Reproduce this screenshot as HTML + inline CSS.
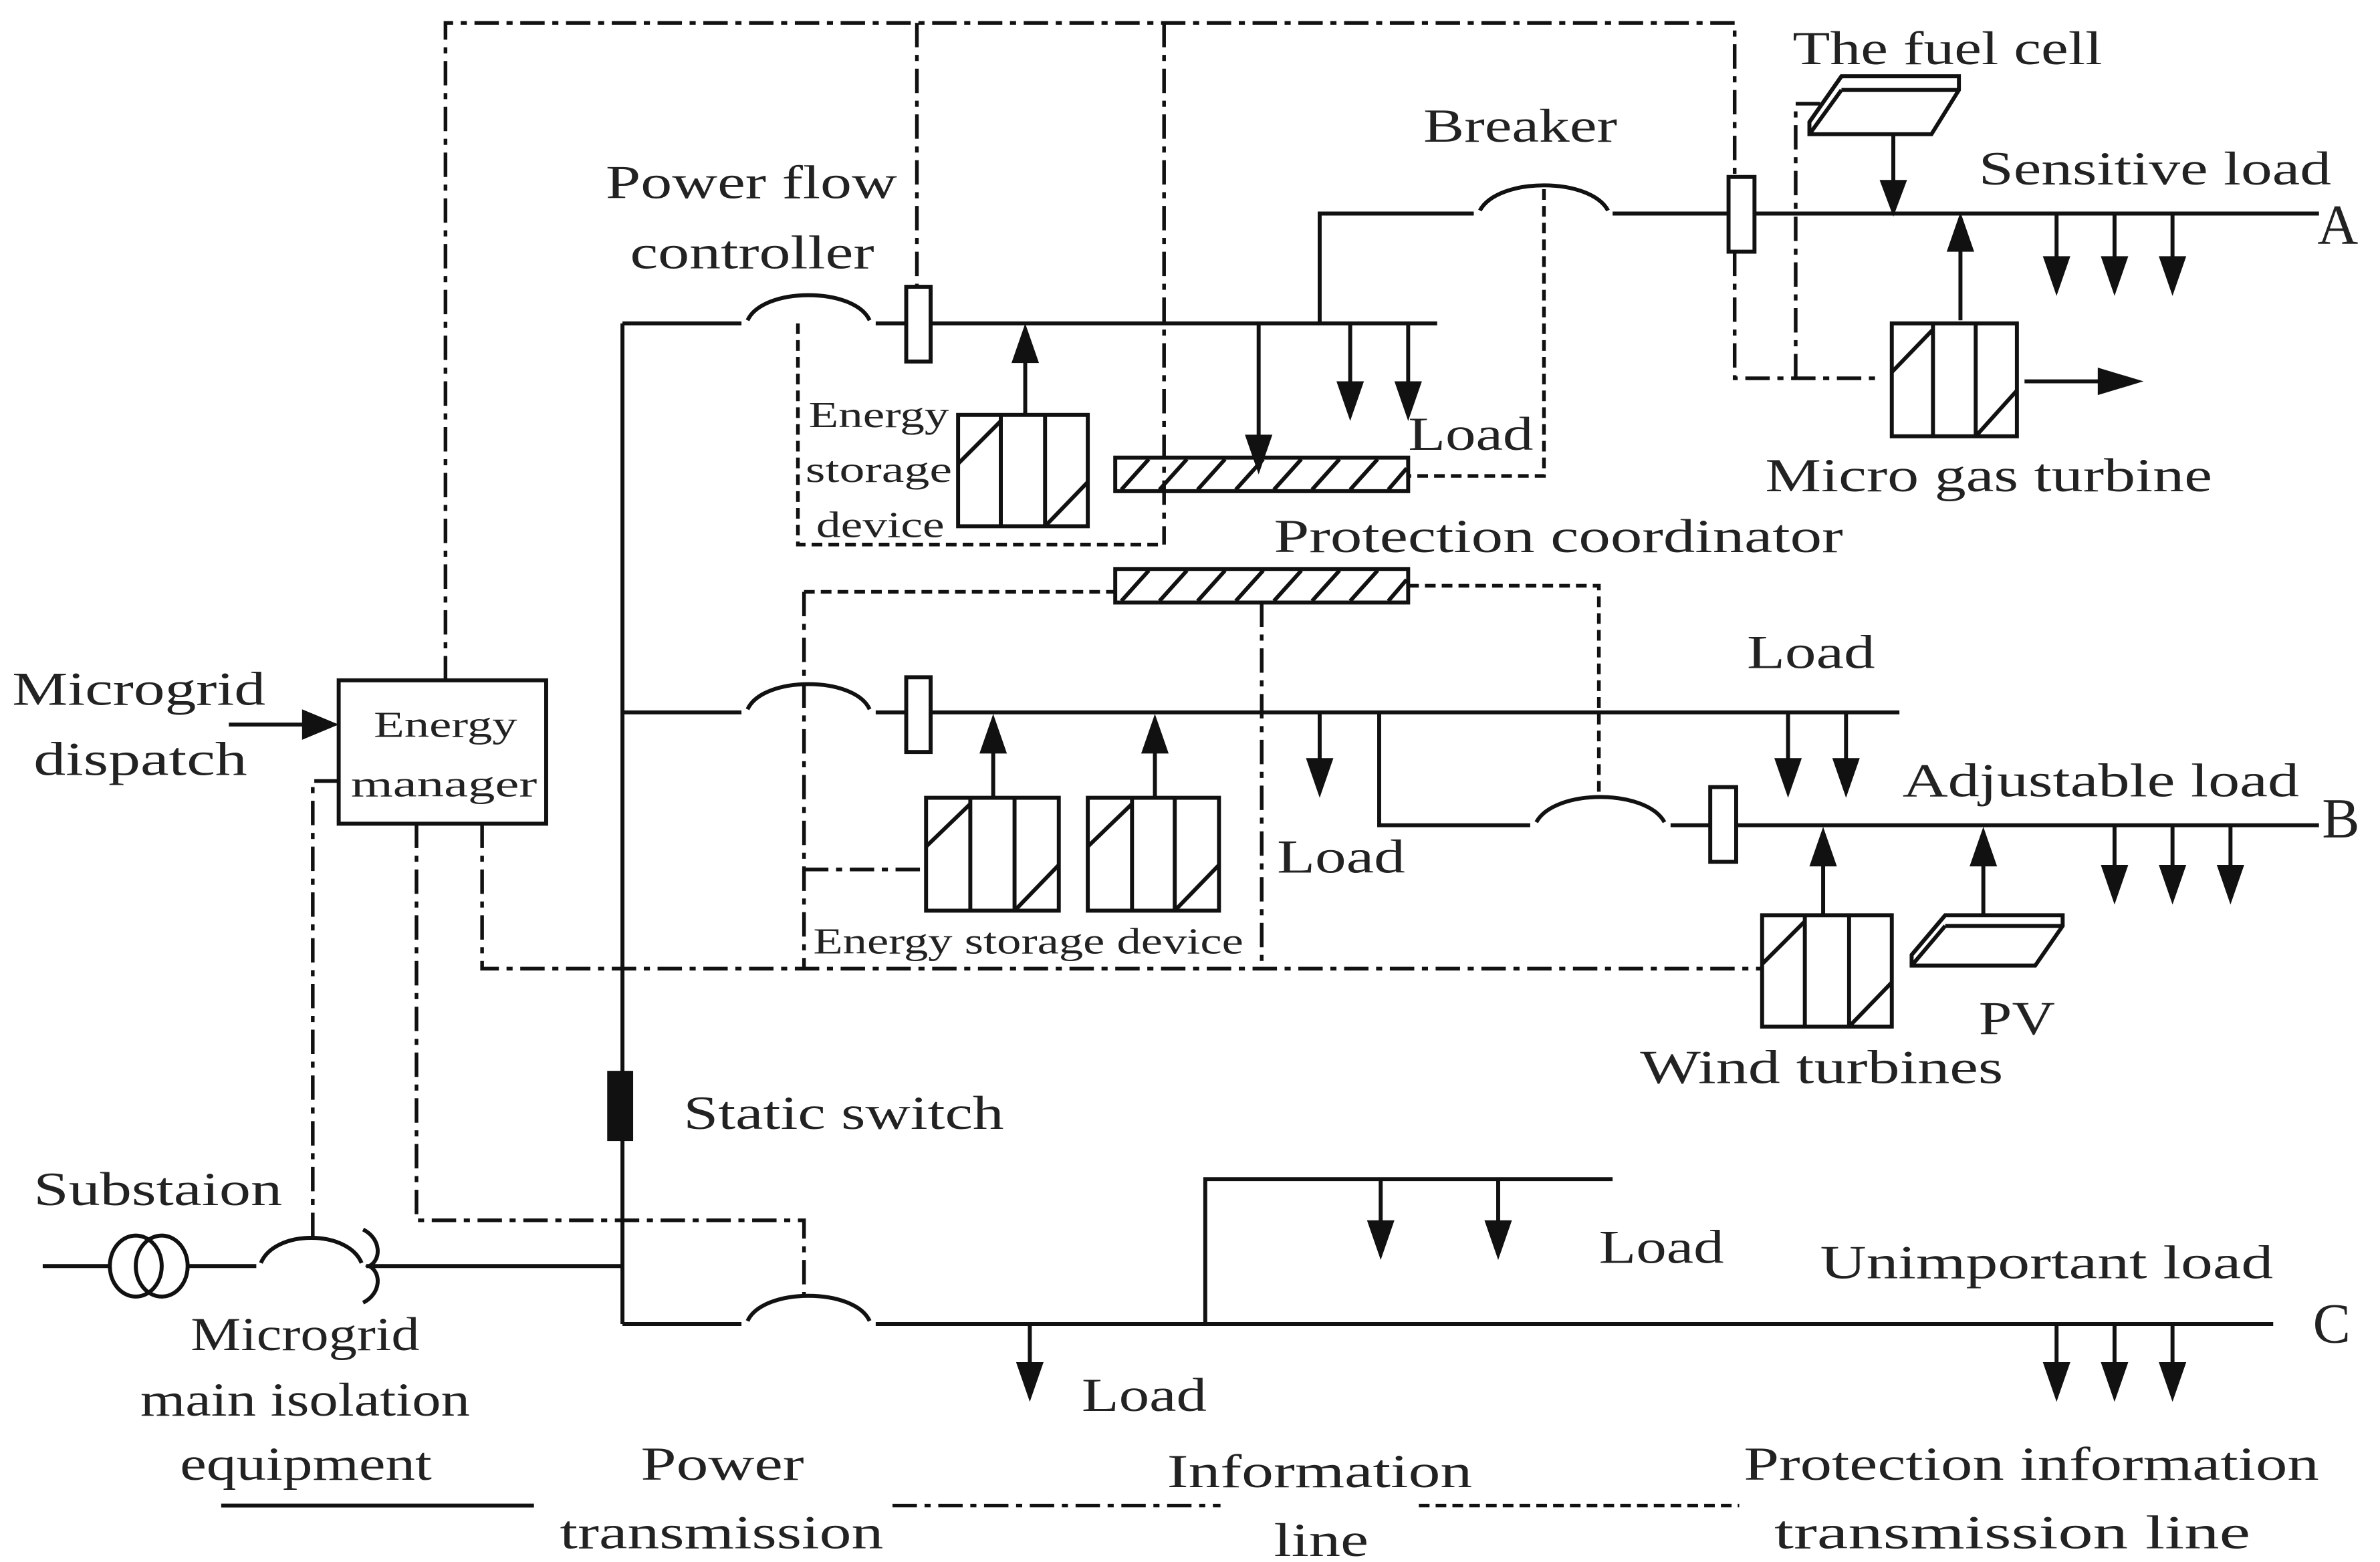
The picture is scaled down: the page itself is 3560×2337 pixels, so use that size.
<!DOCTYPE html>
<html><head><meta charset="utf-8"><style>
html,body{margin:0;padding:0;background:#fff;}
svg{display:block;}
text{font-family:"Liberation Serif",serif;fill:#222;}
</style></head><body>
<svg width="3560" height="2337" viewBox="0 0 1560 1024" preserveAspectRatio="none" xmlns="http://www.w3.org/2000/svg">
<defs>
<marker id="ar" viewBox="0 0 10 10" refX="9" refY="5" markerWidth="7" markerHeight="9" markerUnits="userSpaceOnUse" orient="auto">
</marker>
</defs>
<g fill="none" stroke="#111" stroke-width="2.6">
<!-- Feeder A -->
<path d="M408 212 H486 M574 212 H942"/>
<path d="M490 210 C500 188,560 188,570 210"/>
<path d="M865 212 V140 H966 M1057 140 H1520"/>
<path d="M970 138 C982 116,1042 116,1054 138"/>
<rect x="594" y="188" width="16" height="49" fill="#fff"/>
<rect x="1133" y="116" width="17" height="49" fill="#fff"/>
<!-- main vertical -->
<path d="M408 212 V868"/>
<!-- Feeder B -->
<path d="M408 467 H486 M574 467 H1245"/>
<path d="M490 465 C500 443,560 443,570 465"/>
<rect x="594" y="444" width="16" height="49" fill="#fff"/>
<path d="M904 467 V541 H1003 M1095 541 H1120 M1138 541 H1520"/>
<path d="M1007 539 C1019 517,1079 517,1091 539"/>
<rect x="1121" y="516" width="17" height="49" fill="#fff"/>
<!-- Feeder C -->
<path d="M408 868 H486 M574 868 H1490"/>
<path d="M490 866 C500 844,560 844,570 866"/>
<path d="M790 868 V773 H1057"/>
<!-- substation -->
<path d="M28 830 H72 M124 830 H168 M240 830 H408"/>
<ellipse cx="89" cy="830" rx="17" ry="20"/>
<ellipse cx="106" cy="830" rx="17" ry="20"/>
<path d="M171 828 C180 806,228 806,237 828"/>
<path d="M238 806 C250 812,250 826,242 830 C250 834,250 848,238 854"/>
<!-- energy manager -->
<rect x="222" y="446" width="136" height="94" fill="#fff"/>
<!-- fuel cell -->
<path d="M1207 50 H1284 V59 L1266 88 H1186 V80 Z" fill="#fff"/>
<path d="M1186 80 L1207 50 M1207 59 H1284 M1207 59 L1186 88"/>
<!-- PV -->
<path d="M1275 600 H1352 V607 L1334 633 H1253 V626 Z" fill="#fff"/>
<path d="M1253 626 L1275 600 M1275 607 H1352 M1275 607 L1253 633"/>
<!-- protection coordinators -->
<rect x="731" y="300" width="192" height="22" fill="#fff"/>
<rect x="731" y="373" width="192" height="22" fill="#fff"/>
<path d="M735 321 L753 301 M760 321 L778 301 M785 321 L803 301 M810 321 L828 301 M835 321 L853 301 M860 321 L878 301 M885 321 L903 301 M910 321 L922 307"/>
<path d="M735 394 L753 374 M760 394 L778 374 M785 394 L803 374 M810 394 L828 374 M835 394 L853 374 M860 394 L878 374 M885 394 L903 374 M910 394 L922 380"/>
<!-- legend solid -->
<path d="M145 987 H350"/>
<!-- arrow shafts -->
<path d="M825 212 V290 M885 212 V255 M923 212 V255 M672 272 V230 M1241 88 V125 M1285 210 V155 M1348 140 V180 M1386 140 V180 M1424 140 V180 M1327 250 H1380
M651 523 V484 M757 523 V484 M865 467 V510 M1172 467 V510 M1210 467 V510 M1195 600 V556 M1300 600 V556 M1386 541 V580 M1424 541 V580 M1462 541 V580
M675 868 V905 M905 773 V812 M982 773 V812 M1348 868 V905 M1386 868 V905 M1424 868 V905 M150 475 H205"/>
</g>
<!-- static switch -->
<rect x="398" y="702" width="17" height="46" fill="#111"/>
<!-- arrowheads -->
<g fill="#111">
<path d="M816 285 h18 l-9 26z M876 250 h18 l-9 26z M914 250 h18 l-9 26z M663 238 h18 l-9 -26z
M1232 118 h18 l-9 24z M1276 165 h18 l-9 -26z M1339 168 h18 l-9 26z M1377 168 h18 l-9 26z M1415 168 h18 l-9 26z M1375 241 v18 l30 -9z
M642 494 h18 l-9 -26z M748 494 h18 l-9 -26z M856 497 h18 l-9 26z M1163 497 h18 l-9 26z M1201 497 h18 l-9 26z M1186 568 h18 l-9 -26z M1291 568 h18 l-9 -26z
M1377 567 h18 l-9 26z M1415 567 h18 l-9 26z M1453 567 h18 l-9 26z
M666 893 h18 l-9 26z M896 800 h18 l-9 26z M973 800 h18 l-9 26z M1339 893 h18 l-9 26z M1377 893 h18 l-9 26z M1415 893 h18 l-9 26z M198 465 v20 l24 -10z"/>
</g>
<!-- 3-column boxes -->
<g fill="#fff" stroke="#111" stroke-width="2.6">
<g transform="translate(628,272)"><rect width="85" height="73"/><path d="M28 0V73M57 0V73M0 32L28 4M57 73L85 44" fill="none"/></g>
<g transform="translate(607,523)"><rect width="87" height="74"/><path d="M29 0V74M58 0V74M0 32L29 4M58 74L87 44" fill="none"/></g>
<g transform="translate(713,523)"><rect width="86" height="74"/><path d="M29 0V74M57 0V74M0 32L29 4M57 74L86 44" fill="none"/></g>
<g transform="translate(1155,600)"><rect width="85" height="73"/><path d="M28 0V73M57 0V73M0 32L28 4M57 73L85 44" fill="none"/></g>
<g transform="translate(1240,212)"><rect width="82" height="74"/><path d="M27 0V74M55 0V74M0 32L27 4M55 74L82 44" fill="none"/></g>
</g>
<!-- dash-dot info lines -->
<g fill="none" stroke="#111" stroke-width="2.4" stroke-dasharray="16 5 4 5">
<path d="M292 446 V15 H1137 V116"/>
<path d="M1137 165 V248 H1234"/>
<path d="M601 15 V188"/>
<path d="M763 15 V357"/>
<path d="M1177 248 V68 H1195"/>
<path d="M222 512 H205 V812"/>
<path d="M273 540 V800 H527 V850"/>
<path d="M316 540 V635 H1155"/>
<path d="M527 388 V635"/>
<path d="M827 395 V635"/>
<path d="M527 570 H607"/>
<path d="M585 987 H800"/>
</g>
<!-- dashed protection lines -->
<g fill="none" stroke="#111" stroke-width="2.4" stroke-dasharray="7 4">
<path d="M523 212 V357 H763"/>
<path d="M1012 124 V312 H923"/>
<path d="M527 388 H731"/>
<path d="M923 384 H1048 V520"/>
<path d="M930 987 H1140"/>
</g>
<!-- labels -->
<g font-size="31">
<text x="1175" y="42" textLength="203" lengthAdjust="spacingAndGlyphs">The fuel cell</text>
<text x="933" y="93" textLength="127" lengthAdjust="spacingAndGlyphs">Breaker</text>
<text x="397" y="130" textLength="191" lengthAdjust="spacingAndGlyphs">Power flow</text>
<text x="413" y="176" textLength="160" lengthAdjust="spacingAndGlyphs">controller</text>
<text x="1297" y="121" textLength="231" lengthAdjust="spacingAndGlyphs">Sensitive load</text>
<text x="923" y="295" textLength="82" lengthAdjust="spacingAndGlyphs">Load</text>
<text x="1157" y="322" textLength="293" lengthAdjust="spacingAndGlyphs">Micro gas turbine</text>
<text x="835" y="362" textLength="373" lengthAdjust="spacingAndGlyphs">Protection coordinator</text>
<text x="1145" y="438" textLength="84" lengthAdjust="spacingAndGlyphs">Load</text>
<text x="1247" y="522" textLength="260" lengthAdjust="spacingAndGlyphs">Adjustable load</text>
<text x="837" y="572" textLength="84" lengthAdjust="spacingAndGlyphs">Load</text>
<text x="1297" y="678" textLength="50" lengthAdjust="spacingAndGlyphs">PV</text>
<text x="1075" y="710" textLength="238" lengthAdjust="spacingAndGlyphs">Wind turbines</text>
<text x="8" y="462" textLength="166" lengthAdjust="spacingAndGlyphs">Microgrid</text>
<text x="22" y="508" textLength="140" lengthAdjust="spacingAndGlyphs">dispatch</text>
<text x="448" y="740" textLength="210" lengthAdjust="spacingAndGlyphs">Static switch</text>
<text x="22" y="790" textLength="163" lengthAdjust="spacingAndGlyphs">Substaion</text>
<text x="1048" y="828" textLength="82" lengthAdjust="spacingAndGlyphs">Load</text>
<text x="1193" y="838" textLength="297" lengthAdjust="spacingAndGlyphs">Unimportant load</text>
<text x="125" y="885" textLength="150" lengthAdjust="spacingAndGlyphs">Microgrid</text>
<text x="92" y="928" textLength="216" lengthAdjust="spacingAndGlyphs">main isolation</text>
<text x="118" y="970" textLength="165" lengthAdjust="spacingAndGlyphs">equipment</text>
<text x="709" y="925" textLength="82" lengthAdjust="spacingAndGlyphs">Load</text>
<text x="420" y="970" textLength="107" lengthAdjust="spacingAndGlyphs">Power</text>
<text x="367" y="1015" textLength="212" lengthAdjust="spacingAndGlyphs">transmission</text>
<text x="765" y="975" textLength="200" lengthAdjust="spacingAndGlyphs">Information</text>
<text x="835" y="1020" textLength="62" lengthAdjust="spacingAndGlyphs">line</text>
<text x="1143" y="970" textLength="377" lengthAdjust="spacingAndGlyphs">Protection information</text>
<text x="1163" y="1015" textLength="312" lengthAdjust="spacingAndGlyphs">transmission line</text>
</g>
<g font-size="37">
<text x="1519" y="160">A</text>
<text x="1522" y="549">B</text>
<text x="1516" y="880">C</text>
</g>
<g font-size="24">
<text x="530" y="280" textLength="92" lengthAdjust="spacingAndGlyphs">Energy</text>
<text x="528" y="316" textLength="96" lengthAdjust="spacingAndGlyphs">storage</text>
<text x="535" y="352" textLength="84" lengthAdjust="spacingAndGlyphs">device</text>
<text x="533" y="625" textLength="282" lengthAdjust="spacingAndGlyphs">Energy storage device</text>
<text x="245" y="483" textLength="94" lengthAdjust="spacingAndGlyphs">Energy</text>
<text x="230" y="522" textLength="122" lengthAdjust="spacingAndGlyphs">manager</text>
</g>
</svg>
</body></html>
